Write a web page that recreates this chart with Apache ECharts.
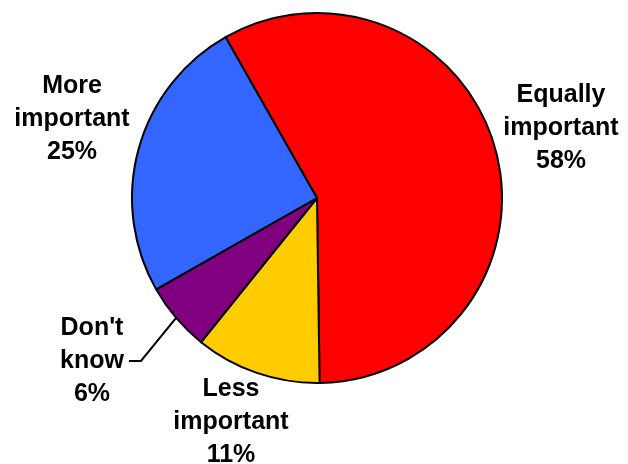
<!DOCTYPE html>
<html>
<head>
<meta charset="utf-8">
<script src="https://cdn.jsdelivr.net/npm/echarts@6/dist/echarts.min.js"></script>
<style>
  html, body { margin: 0; padding: 0; background: #fff; }
  #chart { width: 628px; height: 464px; }
</style>
</head>
<body>
<div id="chart"></div>
<script>
// Answer shares, in drawing order (clockwise from the top-left edge)
const categories = ['Equally\nimportant', 'Less\nimportant', "Don't\nknow", 'More\nimportant'];
const shares = [58, 11, 6, 25];
const sliceColors = ['#FF0000', '#FFCC00', '#800080', '#3366FF'];

// Where each label block sits (block centre, px)
const labelSpots = [[561, 128], [231, 422], [92, 361], [72, 119]];
// Only the small slice gets a leader line
const showLeader = [false, false, true, false];

const chart = echarts.init(document.getElementById('chart'), null, { renderer: 'canvas' });

chart.setOption({
  backgroundColor: '#ffffff',
  animation: false,
  series: [{
    type: 'pie',
    center: [317, 198],
    radius: 185,
    startAngle: 119.6,
    clockwise: true,
    avoidLabelOverlap: false,
    itemStyle: { borderColor: '#000', borderWidth: 2 },
    emphasis: { disabled: true },
    label: {
      show: true,
      position: 'outside',
      formatter: p => p.name + '\n' + p.value + '%',
      fontFamily: '"Liberation Sans", Arial, sans-serif',
      fontWeight: 'bold',
      fontSize: 25,
      lineHeight: 33,
      color: '#000',
      align: 'center'
    },
    labelLine: {
      lineStyle: { color: '#000', width: 2 },
      length: 10,
      length2: 12
    },
    labelLayout: function (params) {
      const s = labelSpots[params.dataIndex];
      return { x: s[0], y: s[1], align: 'center', verticalAlign: 'middle' };
    },
    data: shares.map((v, i) => ({
      name: categories[i],
      value: v,
      itemStyle: { color: sliceColors[i] },
      label: showLeader[i] ? { padding: [0, 5] } : {},
      labelLine: { show: showLeader[i] }
    }))
  }]
});
</script>
</body>
</html>
